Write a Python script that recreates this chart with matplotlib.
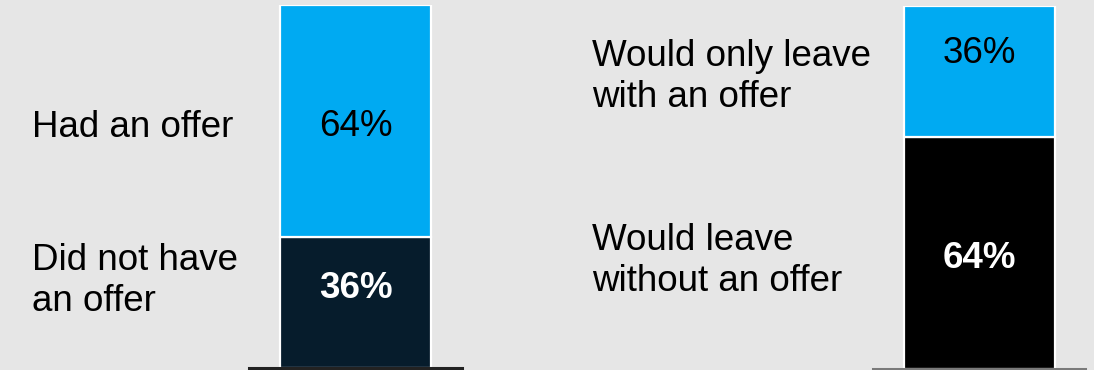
import matplotlib.pyplot as plt

# offer survey: share of respondents in each stacked group
left_labels = ["Did not have\nan offer", "Had an offer"]
left_values = [36, 64]
right_labels = ["Would leave\nwithout an offer", "Would only leave\nwith an offer"]
right_values = [64, 36]

blue = "#00aaf2"
bg = "#e6e6e6"

plt.rcParams["font.family"] = ["Liberation Sans", "DejaVu Sans"]

W, H = 1094, 370
fig = plt.figure(figsize=(W / 100, H / 100), dpi=100, facecolor=bg)


def px_axes(x0, x1, y_top, y_bot):
    # axes placed with pixel edges (y measured from the top)
    return fig.add_axes([x0 / W, 1 - y_bot / H, (x1 - x0) / W, (y_bot - y_top) / H])


def stacked(ax, values, colors, text_colors, weights, label_shift, base_color):
    ax.set_xlim(0, 212)
    ax.set_ylim(0, 100)
    ax.axis("off")
    bottom = 0
    for v, c, tc, w, s in zip(values, colors, text_colors, weights, label_shift):
        ax.bar(106, v, width=151, bottom=bottom, color=c, edgecolor="white",
               linewidth=1.6, zorder=2)
        ax.text(106, bottom + v / 2 + s, f"{v}%", ha="center", va="center",
                fontsize=26.5, color=tc, fontweight=w, zorder=3)
        bottom += v
    ax.axhline(0, color=base_color, linewidth=2.2, zorder=4, clip_on=False)


ax1 = px_axes(249, 462, 5, 368)
stacked(ax1, left_values, ["#061c2c", blue], ["white", "black"],
        ["bold", "normal"], [4.0, -1.5], "#222222")

ax2 = px_axes(873, 1085, 6, 369)
stacked(ax2, right_values, ["black", blue], ["white", "black"],
        ["bold", "normal"], [-1.5, 5.0], "#7a7a7a")

# category labels beside each bar (y = baseline of the last line)
for txt, x, y in [(left_labels[1], 32, 137), (left_labels[0], 32, 311),
                  (right_labels[1], 592, 107), (right_labels[0], 592, 291)]:
    fig.text(x / W, 1 - y / H, txt, ha="left", va="baseline", fontsize=26.5,
             color="black", linespacing=1.22)

fig.savefig("out.png", dpi=100, facecolor=bg)
